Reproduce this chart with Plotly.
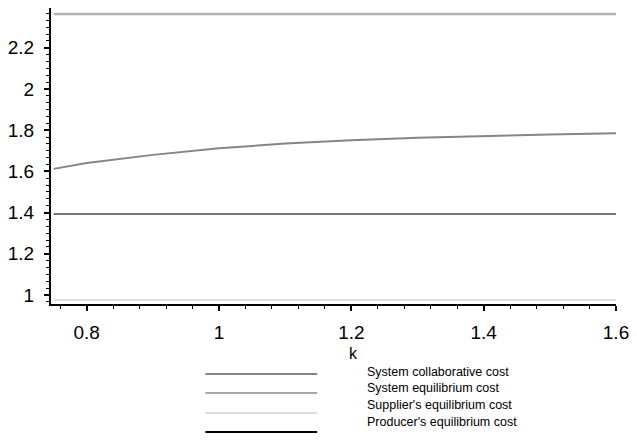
import plotly.graph_objects as go

# Cost curves as a function of k
k = [0.75, 0.8, 0.9, 1.0, 1.1, 1.2, 1.3, 1.4, 1.5, 1.6]
collaborative_cost = [1.612, 1.640, 1.680, 1.712, 1.735, 1.751, 1.763, 1.772, 1.779, 1.785]
system_equilibrium = [2.364] * len(k)
supplier_equilibrium = [0.976] * len(k)
producer_equilibrium = [1.393] * len(k)

series_names = [
    "System collaborative cost",
    "System equilibrium cost",
    "Supplier's equilibrium cost",
    "Producer's equilibrium cost",
]
series_values = [collaborative_cost, system_equilibrium, supplier_equilibrium, producer_equilibrium]
series_colors = ["#858585", "#b2b2b2", "#e0e0e0", "#4a4a4a"]
series_widths = [2, 2.5, 2, 1.6]
legend_colors = ["#858585", "#a6a6a6", "#dcdcdc", "#000000"]

FONT = "Liberation Sans, Arial, Helvetica, sans-serif"

fig = go.Figure()
for name, vals, col, w in zip(series_names, series_values, series_colors, series_widths):
    fig.add_trace(go.Scatter(x=k, y=vals, mode="lines", name=name,
                             line=dict(color=col, width=w), showlegend=False))

# Plot-area geometry in pixels (used to place the hand-drawn legend)
L, R, T, B = 49, 620, 8, 304


def px(xp):
    return (xp - L) / (R - L)


def py(yp):
    return (B - yp) / (B - T)


shapes = []
annotations = []
line_rows = [374, 393, 413, 432]
text_rows = [372, 388, 405, 422]
for name, col, ly, ty in zip(series_names, legend_colors, line_rows, text_rows):
    shapes.append(dict(type="line", xref="paper", yref="paper",
                       x0=px(205), x1=px(318), y0=py(ly), y1=py(ly),
                       line=dict(color=col, width=2)))
    annotations.append(dict(xref="paper", yref="paper", x=px(366), y=py(ty),
                            text=name, showarrow=False, xanchor="left", yanchor="middle",
                            font=dict(family=FONT, size=12.5, color="#000")))

annotations.append(dict(xref="paper", yref="paper", x=px(355), y=py(353),
                        text="k", showarrow=False, xanchor="center", yanchor="middle",
                        font=dict(family=FONT, size=16, color="#000")))

fig.update_layout(
    width=637, height=445,
    margin=dict(l=L, r=637 - R, t=T, b=445 - B),
    paper_bgcolor="white", plot_bgcolor="white",
    font=dict(family=FONT, color="#000"),
    shapes=shapes, annotations=annotations,
    showlegend=False,
)
fig.update_xaxes(
    range=[0.746, 1.6], tickmode="array", tickvals=[0.8, 1.0, 1.2, 1.4, 1.6],
    ticktext=["0.8", "1", "1.2", "1.4", "1.6"],
    showgrid=False, zeroline=False, showline=True, linecolor="#000", linewidth=2,
    ticks="outside", ticklen=5, tickwidth=1.5, tickcolor="#000",
    tickfont=dict(family=FONT, size=19), ticklabelstandoff=5,
    minor=dict(dtick=0.04, tick0=0.8, ticks="outside", ticklen=3, tickwidth=1, tickcolor="#000"),
)
fig.update_yaxes(
    range=[0.956, 2.393], tickmode="array", tickvals=[1.0, 1.2, 1.4, 1.6, 1.8, 2.0, 2.2],
    ticktext=["1", "1.2", "1.4", "1.6", "1.8", "2", "2.2"],
    showgrid=False, zeroline=False, showline=True, linecolor="#000", linewidth=2,
    ticks="outside", ticklen=5, tickwidth=1.5, tickcolor="#000",
    tickfont=dict(family=FONT, size=19), ticklabelstandoff=6,
    minor=dict(dtick=0.2 / 6, tick0=1.0, ticks="outside", ticklen=3, tickwidth=1, tickcolor="#000"),
)

fig.write_html("out.html")
